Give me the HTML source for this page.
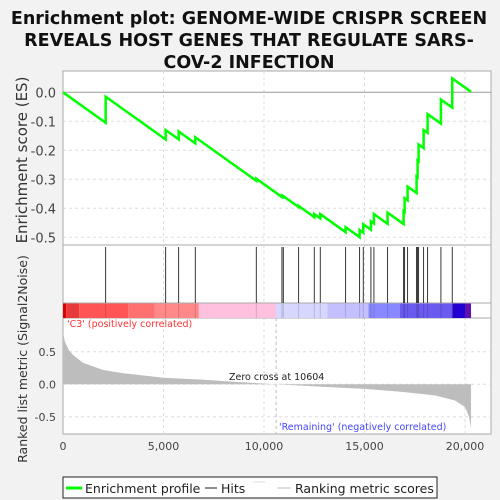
<!DOCTYPE html>
<html><head><meta charset="utf-8"><style>
body{margin:0;background:#f2f2f2;}
svg{display:block;font-family:"DejaVu Sans","Liberation Sans",sans-serif;}
</style></head><body>
<svg id="chart" width="500" height="500">
<rect width="500" height="500" fill="#f2f2f2"/>
<g font-weight="bold" font-size="17.5" text-anchor="middle" fill="#111">
<text x="249" y="24">Enrichment plot: GENOME-WIDE CRISPR SCREEN</text>
<text x="249" y="46">REVEALS HOST GENES THAT REGULATE SARS-</text>
<text x="249" y="68">COV-2 INFECTION</text>
</g>
<rect x="63" y="71" width="428" height="363" fill="#fff" stroke="#aaa"/>
<g id="grid"></g>
<line x1="63" x2="491" y1="245" y2="245" stroke="#aaa"/>
<line x1="63" x2="491" y1="303" y2="303" stroke="#aaa"/>
<line x1="63" x2="491" y1="318" y2="318" stroke="#aaa"/>
<g id="hits"></g>
<g id="colorbar"></g>
<g id="metric"></g>
<g id="es"></g>
<g id="axes" font-size="13" fill="#444"></g>
<text x="67" y="327" font-size="9.5" fill="#f33">'C3' (positively correlated)</text>
<text x="279" y="430" font-size="9.5" fill="#44f">'Remaining' (negatively correlated)</text>
<text x="229" y="380" font-size="9.5" fill="#222">Zero cross at 10604</text>
<text x="277" y="492" font-size="13" text-anchor="middle" fill="#222">Rank in Ordered Dataset</text>
<text transform="translate(27,160) rotate(-90)" font-size="15" text-anchor="middle" fill="#333">Enrichment score (ES)</text>
<text transform="translate(27,359) rotate(-90)" font-size="12.5" text-anchor="middle" fill="#333">Ranked list metric (Signal2Noise)</text>
<g>
<rect x="63" y="477" width="374" height="21" fill="#fff" stroke="#222"/>
<line x1="66" x2="82" y1="488" y2="488" stroke="#0f0" stroke-width="3"/>
<text x="85" y="493" font-size="12.5" fill="#222">Enrichment profile</text>
<line x1="205" x2="217" y1="488" y2="488" stroke="#222"/>
<text x="221" y="493" font-size="12.5" fill="#222">Hits</text>
<line x1="253" x2="265" y1="482" y2="482" stroke="#ddd"/>
<line x1="277" x2="291" y1="488" y2="488" stroke="#bbb"/>
<text x="295" y="493" font-size="12.5" fill="#222">Ranking metric scores</text>
</g>
</svg>
<script>
const hitRanks=[2122,5107,5753,6582,9617,10893,10960,11722,12501,12800,14060,14756,14939,15320,15469,16149,16945,16995,17144,17591,17641,17691,17940,18139,18802,19365];
const esAfter=[-0.015,-0.13,-0.135,-0.155,-0.298,-0.357,-0.358,-0.392,-0.42,-0.42,-0.465,-0.475,-0.455,-0.445,-0.42,-0.415,-0.41,-0.365,-0.325,-0.29,-0.235,-0.18,-0.13,-0.075,-0.025,0.048];
const esSlope=0.105/2122;
const totalRank=20300;
const metricRanks=[0,100,300,500,1000,2000,3000,5000,7000,8500,10604,13000,15000,17000,18500,19500,20000,20200,20300];
const metricVals=[0.79,0.65,0.52,0.45,0.33,0.22,0.17,0.1,0.07,0.04,0,-0.04,-0.07,-0.12,-0.17,-0.25,-0.35,-0.5,-0.67];
const colorStops=[0,160,800,3250,4550,6760,10600,13150,15200,16750,19380,20000,20300];
const colorFills=["#d00","#e83a3a","#ff5555","#ff7070","#ff8888","#ffc0e0","#d6d6ff","#c4c0ff","#8888ff","#6a5af0","#2200d0","#6010b0"];
const xTicks=[0,5000,10000,15000,20000];
const esTicks=[0,-0.1,-0.2,-0.3,-0.4,-0.5];
const metricTicks=[0.5,0,-0.5];
const NS="http://www.w3.org/2000/svg";
const X=r=>63+r*0.0201;
const YE=v=>92.3-v*290;
const YM=v=>384.3-v*65;
function mk(p,t,a){const e=document.createElementNS(NS,t);for(const k in a)e.setAttribute(k,a[k]);p.appendChild(e);return e;}
const grid=document.getElementById('grid'),axes=document.getElementById('axes');
xTicks.forEach(t=>{if(t>0&&t<20000+1){const l=mk(grid,'line',{x1:X(t),x2:X(t),y1:71,y2:434,stroke:'#ddd','stroke-dasharray':'3,3'});}
 const tx=mk(axes,'text',{x:X(t),y:450,'text-anchor':'middle','font-size':'11'});tx.textContent=t.toLocaleString('en-US');
 });
esTicks.forEach(t=>{mk(grid,'line',{x1:63,x2:491,y1:YE(t),y2:YE(t),stroke:t===0?'#999':'#ddd','stroke-dasharray':t===0?'':'3,3'});
 const tx=mk(axes,'text',{x:56,y:YE(t)+5,'text-anchor':'end'});tx.textContent=t.toFixed(1);
 });
metricTicks.forEach(t=>{mk(grid,'line',{x1:63,x2:491,y1:YM(t),y2:YM(t),stroke:'#ddd','stroke-dasharray':'3,3'});
 const tx=mk(axes,'text',{x:56,y:YM(t)+4,'text-anchor':'end','font-size':'11'});tx.textContent=t.toFixed(1);
 });
mk(grid,'line',{x1:X(10604),x2:X(10604),y1:318,y2:434,stroke:'#bbb','stroke-dasharray':'3,3'});
const hits=document.getElementById('hits');
hitRanks.forEach(r=>{const l=mk(hits,'line',{x1:X(r),x2:X(r),y1:247,y2:303,stroke:'#222','stroke-width':0.9});
 });
const cb=document.getElementById('colorbar');
colorFills.forEach((c,i)=>{const r=mk(cb,'rect',{x:X(colorStops[i]),y:303.5,width:X(colorStops[i+1])-X(colorStops[i]),height:14.5,fill:c});
 });
hitRanks.forEach(r=>mk(cb,'line',{x1:X(r),x2:X(r),y1:304,y2:318,stroke:'rgba(0,0,0,0.15)'}));
const m=document.getElementById('metric');
let d='M'+X(0)+','+YM(0);
metricRanks.forEach((r,i)=>{d+=' L'+X(r)+','+YM(metricVals[i]);});
d+=' L'+X(totalRank)+','+YM(0)+' Z';
const mp=mk(m,'path',{d:d,fill:'#bdbdbd'});

let pts=[[0,0]],prevR=0,prevV=0;
hitRanks.forEach((r,i)=>{const before=prevV-esSlope*(r-prevR);pts.push([r,before]);pts.push([r,esAfter[i]]);prevR=r;prevV=esAfter[i];});
pts.push([totalRank,prevV-esSlope*(totalRank-prevR)]);
const es=document.getElementById('es');
const pl=mk(es,'polyline',{points:pts.map(p=>X(p[0])+','+YE(p[1])).join(' '),fill:'none',stroke:'#0f0','stroke-width':2.5});

</script>
</body></html>
